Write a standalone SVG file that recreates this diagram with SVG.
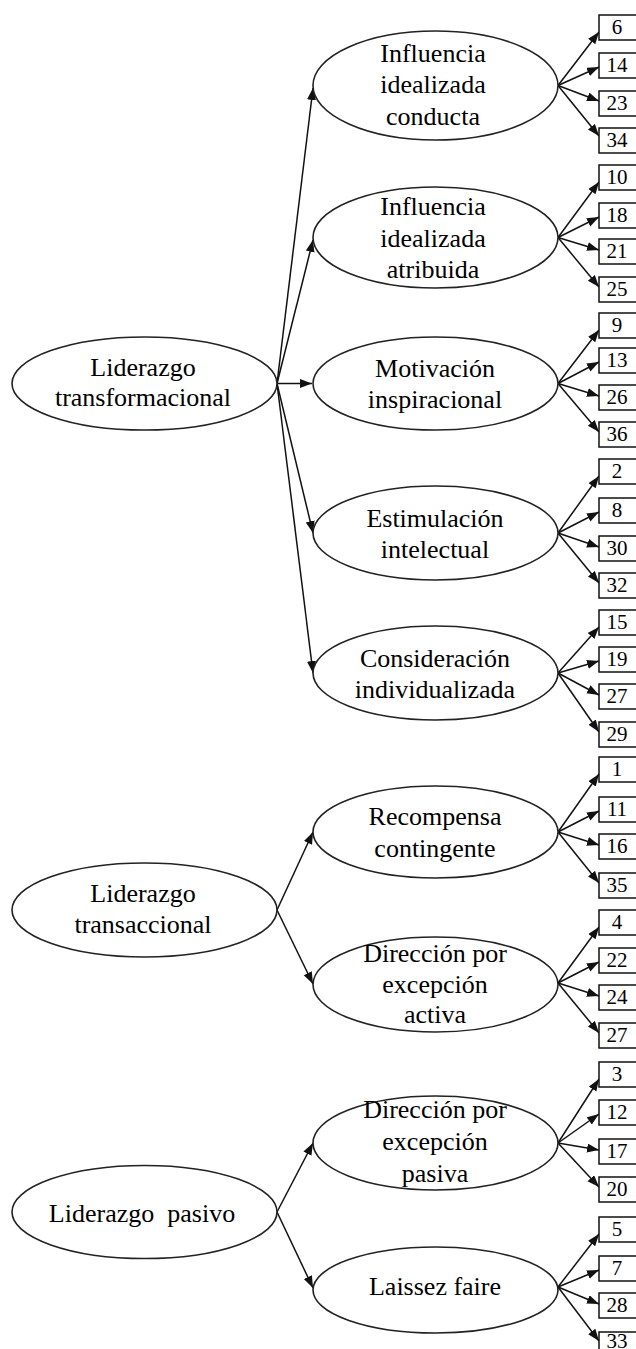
<svg xmlns="http://www.w3.org/2000/svg" width="636" height="1349" viewBox="0 0 636 1349">
<style>
.el{fill:#fff;stroke:#222;stroke-width:1.6}
.bx{fill:#fff;stroke:#111;stroke-width:1.5}
.t{font-family:"Liberation Serif","Times New Roman",serif;font-size:26px;fill:#000;text-anchor:middle;white-space:pre}
.n{font-family:"Liberation Serif","Times New Roman",serif;font-size:21px;fill:#000;text-anchor:middle}
.c{stroke:#111;stroke-width:1.5;fill:none;marker-end:url(#ah)}
</style>
<defs>
<marker id="ah" markerUnits="userSpaceOnUse" markerWidth="13" markerHeight="10" refX="12" refY="4.5" orient="auto">
<path d="M0,0 L12,4.5 L0,9 z" fill="#111"/>
</marker>
</defs>
<rect width="636" height="1349" fill="#fff"/>
<g id="connectors">
<line class="c" x1="277" y1="383.5" x2="313" y2="88"/>
<line class="c" x1="277" y1="383.5" x2="313" y2="240"/>
<line class="c" x1="277" y1="383.5" x2="312" y2="383.5"/>
<line class="c" x1="277" y1="383.5" x2="313" y2="533"/>
<line class="c" x1="277" y1="383.5" x2="313" y2="673"/>
<line class="c" x1="277" y1="910" x2="313" y2="832"/>
<line class="c" x1="277" y1="910" x2="313" y2="984"/>
<line class="c" x1="277" y1="1212" x2="313" y2="1143"/>
<line class="c" x1="277" y1="1212" x2="313" y2="1288"/>
<line class="c" x1="558" y1="85.5" x2="599" y2="32"/>
<line class="c" x1="558" y1="85.5" x2="599" y2="67"/>
<line class="c" x1="558" y1="85.5" x2="599" y2="101"/>
<line class="c" x1="558" y1="85.5" x2="599" y2="136"/>
<line class="c" x1="558" y1="237.5" x2="599" y2="182"/>
<line class="c" x1="558" y1="237.5" x2="599" y2="217"/>
<line class="c" x1="558" y1="237.5" x2="599" y2="250"/>
<line class="c" x1="558" y1="237.5" x2="599" y2="287"/>
<line class="c" x1="558" y1="383.5" x2="599" y2="330"/>
<line class="c" x1="558" y1="383.5" x2="599" y2="362"/>
<line class="c" x1="558" y1="383.5" x2="599" y2="396"/>
<line class="c" x1="558" y1="383.5" x2="599" y2="432"/>
<line class="c" x1="558" y1="533" x2="599" y2="476"/>
<line class="c" x1="558" y1="533" x2="599" y2="512"/>
<line class="c" x1="558" y1="533" x2="599" y2="547"/>
<line class="c" x1="558" y1="533" x2="599" y2="583"/>
<line class="c" x1="558" y1="673" x2="599" y2="627"/>
<line class="c" x1="558" y1="673" x2="599" y2="661"/>
<line class="c" x1="558" y1="673" x2="599" y2="695"/>
<line class="c" x1="558" y1="673" x2="599" y2="732"/>
<line class="c" x1="558" y1="832" x2="599" y2="774"/>
<line class="c" x1="558" y1="832" x2="599" y2="811"/>
<line class="c" x1="558" y1="832" x2="599" y2="845"/>
<line class="c" x1="558" y1="832" x2="599" y2="883"/>
<line class="c" x1="558" y1="983" x2="599" y2="927"/>
<line class="c" x1="558" y1="983" x2="599" y2="962"/>
<line class="c" x1="558" y1="983" x2="599" y2="996"/>
<line class="c" x1="558" y1="983" x2="599" y2="1033"/>
<line class="c" x1="558" y1="1143" x2="599" y2="1079"/>
<line class="c" x1="558" y1="1143" x2="599" y2="1114"/>
<line class="c" x1="558" y1="1143" x2="599" y2="1150"/>
<line class="c" x1="558" y1="1143" x2="599" y2="1187"/>
<line class="c" x1="558" y1="1287" x2="599" y2="1234"/>
<line class="c" x1="558" y1="1287" x2="599" y2="1270"/>
<line class="c" x1="558" y1="1287" x2="599" y2="1304"/>
<line class="c" x1="558" y1="1287" x2="599" y2="1341"/>
</g>
<g id="n-transformacional"><ellipse class="el" cx="144.5" cy="383.5" rx="132.5" ry="46.5"/><text class="t" x="143" y="376">Liderazgo</text><text class="t" x="143" y="406">transformacional</text></g>
<g id="n-transaccional"><ellipse class="el" cx="144.5" cy="910" rx="132.5" ry="47"/><text class="t" x="143" y="902">Liderazgo</text><text class="t" x="143" y="933">transaccional</text></g>
<g id="n-pasivo"><ellipse class="el" cx="144.5" cy="1212" rx="132.5" ry="46.5"/><text class="t" x="142" y="1222">Liderazgo  pasivo</text></g>
<g id="n-conducta"><ellipse class="el" cx="435.5" cy="85.5" rx="122.5" ry="54.5"/><text class="t" x="433" y="62">Influencia</text><text class="t" x="433" y="93">idealizada</text><text class="t" x="433" y="125">conducta</text></g>
<g id="n-atribuida"><ellipse class="el" cx="435.5" cy="237.5" rx="122.5" ry="50.5"/><text class="t" x="433" y="215">Influencia</text><text class="t" x="433" y="247">idealizada</text><text class="t" x="433" y="278">atribuida</text></g>
<g id="n-motivacion"><ellipse class="el" cx="435.5" cy="383.5" rx="122.5" ry="46.5"/><text class="t" x="435" y="377">Motivación</text><text class="t" x="435" y="408">inspiracional</text></g>
<g id="n-estimulacion"><ellipse class="el" cx="435.5" cy="533" rx="122.5" ry="47"/><text class="t" x="435" y="527">Estimulación</text><text class="t" x="435" y="558">intelectual</text></g>
<g id="n-consideracion"><ellipse class="el" cx="435.5" cy="673" rx="122.5" ry="47"/><text class="t" x="435" y="667">Consideración</text><text class="t" x="435" y="698">individualizada</text></g>
<g id="n-recompensa"><ellipse class="el" cx="435.5" cy="832" rx="122.5" ry="46"/><text class="t" x="435" y="825">Recompensa</text><text class="t" x="435" y="857">contingente</text></g>
<g id="n-activa"><ellipse class="el" cx="435.5" cy="984.5" rx="122.5" ry="47.5"/><text class="t" x="435" y="962">Dirección por</text><text class="t" x="435" y="993">excepción</text><text class="t" x="435" y="1023">activa</text></g>
<g id="n-pasiva"><ellipse class="el" cx="435.5" cy="1143" rx="122.5" ry="47"/><text class="t" x="435" y="1118">Dirección por</text><text class="t" x="435" y="1150">excepción</text><text class="t" x="435" y="1182">pasiva</text></g>
<g id="n-laissez"><ellipse class="el" cx="435.5" cy="1290" rx="122.5" ry="43"/><text class="t" x="435" y="1295">Laissez faire</text></g>
<g id="items">
<g id="i6"><rect class="bx" x="599" y="15" width="60" height="25"/><text class="n" x="617" y="33.5">6</text></g>
<g id="i14"><rect class="bx" x="599" y="53" width="60" height="25"/><text class="n" x="617" y="71.5">14</text></g>
<g id="i23"><rect class="bx" x="599" y="91" width="60" height="25"/><text class="n" x="617" y="109.5">23</text></g>
<g id="i34"><rect class="bx" x="599" y="128" width="60" height="25"/><text class="n" x="617" y="146.5">34</text></g>
<g id="i10"><rect class="bx" x="599" y="165" width="60" height="25"/><text class="n" x="617" y="183.5">10</text></g>
<g id="i18"><rect class="bx" x="599" y="203" width="60" height="25"/><text class="n" x="617" y="221.5">18</text></g>
<g id="i21"><rect class="bx" x="599" y="239" width="60" height="25"/><text class="n" x="617" y="257.5">21</text></g>
<g id="i25"><rect class="bx" x="599" y="277" width="60" height="25"/><text class="n" x="617" y="295.5">25</text></g>
<g id="i9"><rect class="bx" x="599" y="313" width="60" height="25"/><text class="n" x="617" y="331.5">9</text></g>
<g id="i13"><rect class="bx" x="599" y="348" width="60" height="25"/><text class="n" x="617" y="366.5">13</text></g>
<g id="i26"><rect class="bx" x="599" y="385" width="60" height="25"/><text class="n" x="617" y="403.5">26</text></g>
<g id="i36"><rect class="bx" x="599" y="422" width="60" height="25"/><text class="n" x="617" y="440.5">36</text></g>
<g id="i2"><rect class="bx" x="599" y="459" width="60" height="25"/><text class="n" x="617" y="477.5">2</text></g>
<g id="i8"><rect class="bx" x="599" y="498" width="60" height="25"/><text class="n" x="617" y="516.5">8</text></g>
<g id="i30"><rect class="bx" x="599" y="536" width="60" height="25"/><text class="n" x="617" y="554.5">30</text></g>
<g id="i32"><rect class="bx" x="599" y="573" width="60" height="25"/><text class="n" x="617" y="591.5">32</text></g>
<g id="i15"><rect class="bx" x="599" y="610" width="60" height="25"/><text class="n" x="617" y="628.5">15</text></g>
<g id="i19"><rect class="bx" x="599" y="647" width="60" height="25"/><text class="n" x="617" y="665.5">19</text></g>
<g id="i27a"><rect class="bx" x="599" y="684" width="60" height="25"/><text class="n" x="617" y="702.5">27</text></g>
<g id="i29"><rect class="bx" x="599" y="722" width="60" height="25"/><text class="n" x="617" y="740.5">29</text></g>
<g id="i1"><rect class="bx" x="599" y="757" width="60" height="25"/><text class="n" x="617" y="775.5">1</text></g>
<g id="i11"><rect class="bx" x="599" y="797" width="60" height="25"/><text class="n" x="617" y="815.5">11</text></g>
<g id="i16"><rect class="bx" x="599" y="834" width="60" height="25"/><text class="n" x="617" y="852.5">16</text></g>
<g id="i35"><rect class="bx" x="599" y="873" width="60" height="25"/><text class="n" x="617" y="891.5">35</text></g>
<g id="i4"><rect class="bx" x="599" y="910" width="60" height="25"/><text class="n" x="617" y="928.5">4</text></g>
<g id="i22"><rect class="bx" x="599" y="948" width="60" height="25"/><text class="n" x="617" y="966.5">22</text></g>
<g id="i24"><rect class="bx" x="599" y="985" width="60" height="25"/><text class="n" x="617" y="1003.5">24</text></g>
<g id="i27b"><rect class="bx" x="599" y="1023" width="60" height="25"/><text class="n" x="617" y="1041.5">27</text></g>
<g id="i3"><rect class="bx" x="599" y="1062" width="60" height="25"/><text class="n" x="617" y="1080.5">3</text></g>
<g id="i12"><rect class="bx" x="599" y="1100" width="60" height="25"/><text class="n" x="617" y="1118.5">12</text></g>
<g id="i17"><rect class="bx" x="599" y="1139" width="60" height="25"/><text class="n" x="617" y="1157.5">17</text></g>
<g id="i20"><rect class="bx" x="599" y="1177" width="60" height="25"/><text class="n" x="617" y="1195.5">20</text></g>
<g id="i5"><rect class="bx" x="599" y="1217" width="60" height="25"/><text class="n" x="617" y="1235.5">5</text></g>
<g id="i7"><rect class="bx" x="599" y="1256" width="60" height="25"/><text class="n" x="617" y="1274.5">7</text></g>
<g id="i28"><rect class="bx" x="599" y="1293" width="60" height="25"/><text class="n" x="617" y="1311.5">28</text></g>
<g id="i33"><rect class="bx" x="599" y="1332" width="60" height="25"/><text class="n" x="617" y="1348">33</text></g>
</g>
</svg>
